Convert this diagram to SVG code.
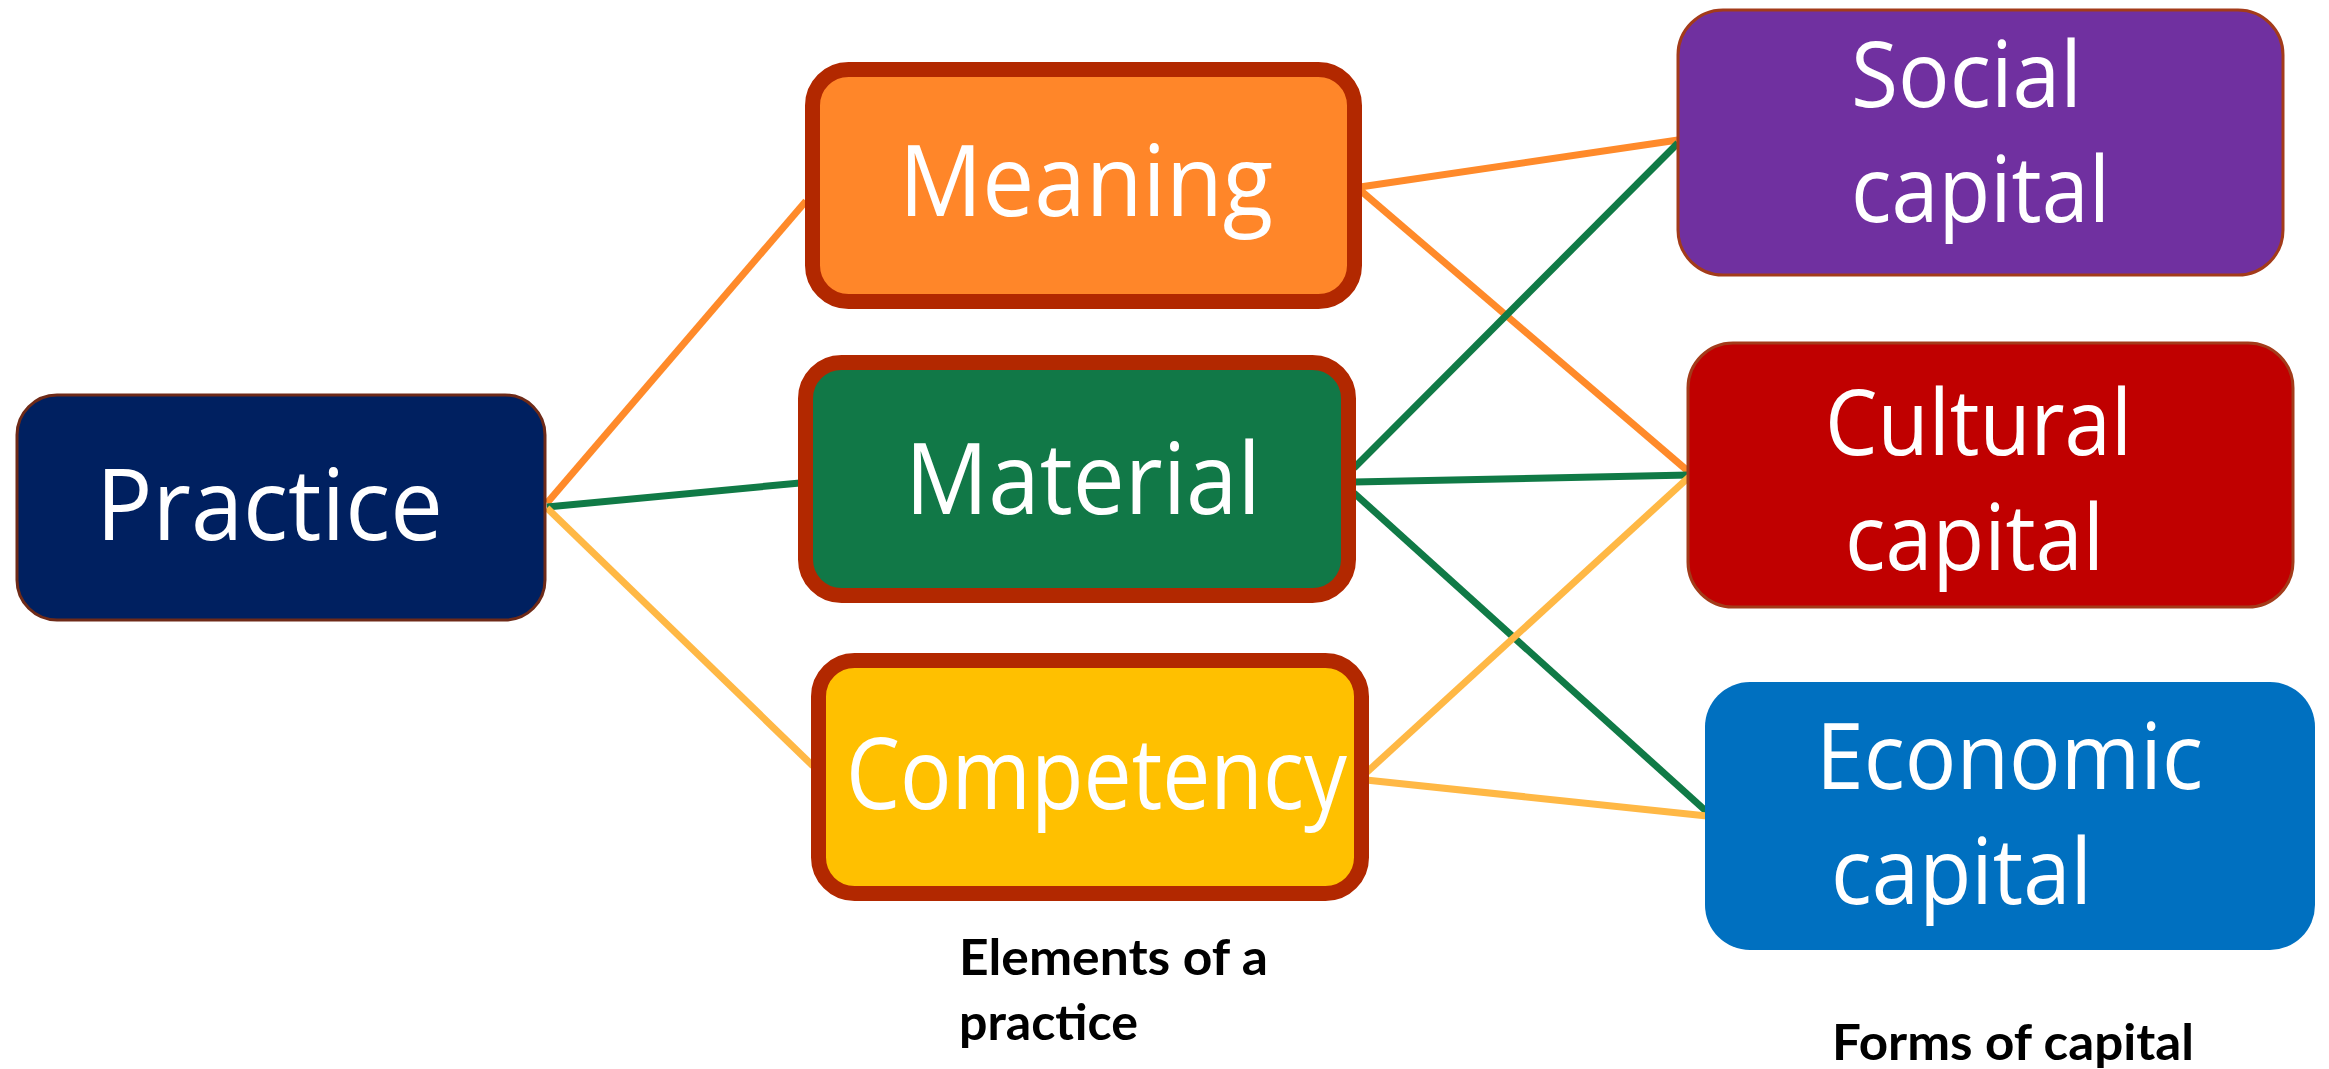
<svg xmlns="http://www.w3.org/2000/svg" width="2329" height="1069" viewBox="0 0 2329 1069">
<style>
.t{font-family:"Open Sans","Noto Sans","DejaVu Sans",sans-serif;fill:#fff;}
.big{font-size:98px;}
.cap{font-size:92px;}
.lbl{font-family:Lato,"Open Sans","Liberation Sans",sans-serif;font-weight:bold;font-size:50px;fill:#000;}
.el{stroke:#B22800;stroke-width:15;}
.fc{stroke:#A33B1A;stroke-width:3;}
.c line{stroke-width:7;stroke-linecap:butt;}
.o{stroke:#FF8A2A;}
.g{stroke:#107A46;}
.y{stroke:#FFB845;}
</style>
<rect width="2329" height="1069" fill="#fff"/>
<g id="connectors" class="c">
<line class="o" x1="547" y1="503" x2="806" y2="201"/>
<line class="g" x1="547" y1="507" x2="800" y2="483"/>
<line class="y" x1="547" y1="508" x2="813" y2="766"/>
<line class="o" x1="1360" y1="187" x2="1678" y2="140"/>
<line class="o" x1="1360" y1="190" x2="1689" y2="472"/>
<line class="g" x1="1354" y1="468" x2="1678" y2="143"/>
<line class="g" x1="1354" y1="482" x2="1689" y2="475"/>
<line class="g" x1="1354" y1="493" x2="1707" y2="812"/>
<line class="y" x1="1366" y1="773" x2="1689" y2="477"/>
<line class="y" x1="1366" y1="780" x2="1707" y2="816"/>
</g>
<g id="practice">
<rect x="17" y="395" width="528" height="225" rx="40" fill="#002060" stroke="#6E2A18" stroke-width="3"/>
<text class="t big" x="96" y="540" textLength="347" lengthAdjust="spacingAndGlyphs">Practice</text>
</g>
<g id="meaning">
<rect class="el" x="812.5" y="69.5" width="542" height="232" rx="36" fill="#FF8629"/>
<text class="t big" x="899" y="216" textLength="374" lengthAdjust="spacingAndGlyphs">Meaning</text>
</g>
<g id="material">
<rect class="el" x="805.5" y="362.5" width="543" height="233" rx="36" fill="#117847"/>
<text class="t big" x="905" y="514" textLength="356" lengthAdjust="spacingAndGlyphs">Material</text>
</g>
<g id="competency">
<rect class="el" x="818.5" y="660.5" width="543" height="233" rx="36" fill="#FFC000"/>
<text class="t big" x="846" y="809" textLength="501" lengthAdjust="spacingAndGlyphs">Competency</text>
</g>
<g id="social">
<rect class="fc" x="1678" y="10" width="605" height="265" rx="45" fill="#7030A0"/>
<text class="t cap" x="1851" y="107" textLength="231" lengthAdjust="spacingAndGlyphs">Social</text>
<text class="t cap" x="1851" y="222" textLength="259" lengthAdjust="spacingAndGlyphs">capital</text>
</g>
<g id="cultural">
<rect class="fc" x="1688" y="343" width="605" height="264" rx="45" fill="#C00000"/>
<text class="t cap" x="1825" y="455" textLength="307" lengthAdjust="spacingAndGlyphs">Cultural</text>
<text class="t cap" x="1845" y="570" textLength="259" lengthAdjust="spacingAndGlyphs">capital</text>
</g>
<g id="economic">
<rect x="1705" y="682" width="610" height="268" rx="45" fill="#0070C0"/>
<text class="t cap" x="1816" y="789" textLength="387" lengthAdjust="spacingAndGlyphs">Economic</text>
<text class="t cap" x="1831" y="904" textLength="261" lengthAdjust="spacingAndGlyphs">capital</text>
</g>
<g id="label-elements">
<text class="lbl" x="959" y="975" textLength="309" lengthAdjust="spacingAndGlyphs">Elements of a</text>
<text class="lbl" x="959" y="1040" textLength="179" lengthAdjust="spacingAndGlyphs">practice</text>
</g>
<g id="label-forms">
<text class="lbl" x="1832" y="1060" textLength="362" lengthAdjust="spacingAndGlyphs">Forms of capital</text>
</g>
</svg>
